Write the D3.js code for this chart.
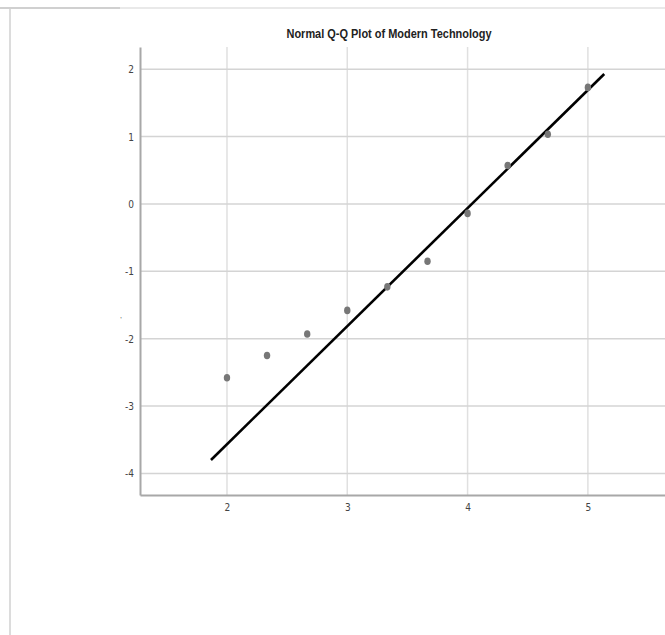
<!DOCTYPE html>
<html>
<head>
<meta charset="utf-8">
<script src="https://cdn.jsdelivr.net/npm/d3@7"></script>
<style>
  body { margin: 0; background: #fff; }
  svg { display: block; }
</style>
</head>
<body>
<script>
// observed values and expected normal values
var observed = [2, 2.333, 2.667, 3, 3.333, 3.667, 4, 4.333, 4.667, 5];
var expected = [-2.58, -2.25, -1.93, -1.58, -1.23, -0.85, -0.14, 0.57, 1.035, 1.73];
// reference line end points
var lineX = [1.867, 5.136];
var lineY = [-3.80, 1.93];
var xTicks = [2, 3, 4, 5];
var yTicks = [2, 1, 0, -1, -2, -3, -4];
var title = "Normal Q-Q Plot of Modern Technology";

function plot() {
  var width = 665, height = 635;

  var svg = d3.select("body").append("svg")
      .attr("width", width)
      .attr("height", height);

  // page frame lines
  svg.append("line")
      .attr("x1", 0).attr("x2", width).attr("y1", 8).attr("y2", 8)
      .attr("stroke", "#e2e2e2").attr("stroke-width", 1.5);
  svg.append("line")
      .attr("x1", 0).attr("x2", 120).attr("y1", 8).attr("y2", 8)
      .attr("stroke", "#d0d0d0").attr("stroke-width", 2);
  svg.append("line")
      .attr("x1", 10).attr("x2", 10).attr("y1", 9).attr("y2", height)
      .attr("stroke", "#dcdcdc").attr("stroke-width", 2);

  var x = d3.scaleLinear().domain([1.277, 5.641]).range([140, 665]);
  var y = d3.scaleLinear().domain([-4.32, 2.33]).range([495, 47]);

  // grid
  svg.append("g").selectAll("line").data(xTicks).enter().append("line")
      .attr("x1", function(d) { return x(d); })
      .attr("x2", function(d) { return x(d); })
      .attr("y1", y.range()[1]).attr("y2", y.range()[0])
      .attr("stroke", "#e0e0e0").attr("stroke-width", 1.5);
  svg.append("g").selectAll("line").data(yTicks).enter().append("line")
      .attr("x1", x.range()[0]).attr("x2", x.range()[1])
      .attr("y1", function(d) { return y(d); })
      .attr("y2", function(d) { return y(d); })
      .attr("stroke", "#d4d4d4").attr("stroke-width", 1.5);

  // axes
  var fmt = function(d) { return String(d); };
  var xAxis = svg.append("g")
      .attr("transform", "translate(0," + y.range()[0] + ")")
      .call(d3.axisBottom(x).tickValues(xTicks).tickSize(0).tickPadding(9).tickFormat(fmt));
  var yAxis = svg.append("g")
      .attr("transform", "translate(" + x.range()[0] + ",0)")
      .call(d3.axisLeft(y).tickValues(yTicks).tickSize(0).tickPadding(6).tickFormat(fmt));

  [xAxis, yAxis].forEach(function(a) {
    a.select(".domain").attr("stroke", "#a8a8a8").attr("stroke-width", 2);
    a.selectAll("text")
      .attr("fill", "#444")
      .style("font-family", "'Liberation Sans Narrow', 'DejaVu Sans Condensed', sans-serif")
      .style("font-size", "10px");
  });
  yAxis.selectAll("text").attr("dy", "0.35em");

  // stray y-axis label mark
  svg.append("text")
      .attr("x", 121).attr("y", 322)
      .attr("text-anchor", "middle")
      .attr("fill", "#666")
      .style("font-size", "8px")
      .style("font-family", "'Liberation Sans', sans-serif")
      .text("'");

  // reference line
  svg.append("line")
      .attr("x1", x(lineX[0])).attr("y1", y(lineY[0]))
      .attr("x2", x(lineX[1])).attr("y2", y(lineY[1]))
      .attr("stroke", "#000").attr("stroke-width", 2.6);

  // points
  svg.append("g").selectAll("ellipse").data(observed).enter().append("ellipse")
      .attr("cx", function(d) { return x(d); })
      .attr("cy", function(d, i) { return y(expected[i]); })
      .attr("rx", 3.2).attr("ry", 3.8)
      .attr("fill", "#777");

  // title
  svg.append("text")
      .attr("x", 389).attr("y", 38)
      .attr("text-anchor", "middle")
      .attr("fill", "#222")
      .attr("textLength", 205)
      .attr("lengthAdjust", "spacingAndGlyphs")
      .style("font-family", "'Liberation Sans Narrow', 'Liberation Sans', sans-serif")
      .style("font-weight", "bold")
      .style("font-size", "13px")
      .text(title);
}

plot();
</script>
</body>
</html>
